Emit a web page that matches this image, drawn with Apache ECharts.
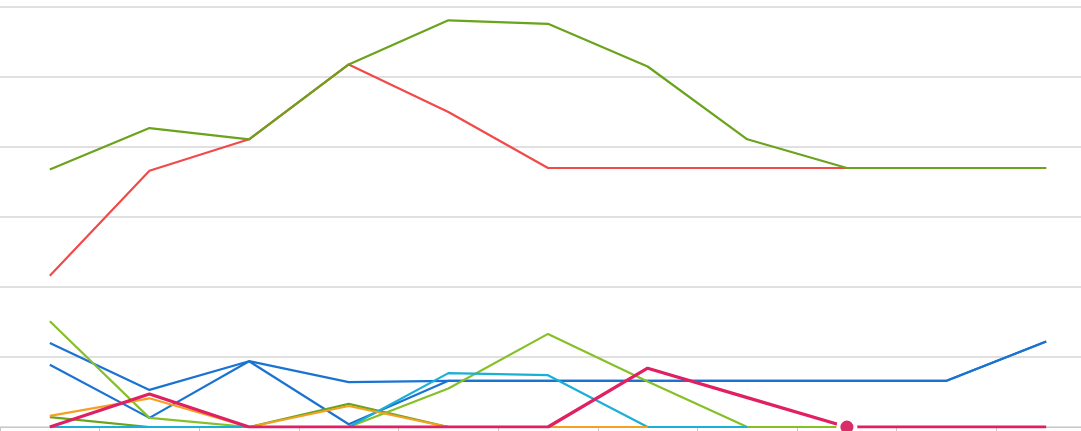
<!DOCTYPE html>
<html>
<head>
<meta charset="utf-8">
<script src="https://cdn.jsdelivr.net/npm/echarts@6/dist/echarts.min.js"></script>
<style>
html,body{margin:0;padding:0;background:#fff;overflow:hidden;width:1081px;height:431px;}
#chart{width:1096px;height:431px;}
</style>
</head>
<body>
<div id="chart"></div>
<script>
var categories = ['1','2','3','4','5','6','7','8','9','10','11'];
var seriesRed = [21.6, 36.6, 41.1, 51.8, 45.0, 37.0, 37.0, 37.0, 37.0, 37.0, 37.0];
var seriesGreen = [36.8, 42.7, 41.1, 51.8, 58.1, 57.6, 51.5, 41.1, 37.0, 37.0, 37.0];
var seriesBlue1 = [12.0, 5.3, 9.4, 6.4, 6.6, 6.6, 6.6, 6.6, 6.6, 6.6, 12.2];
var seriesBlue2 = [8.9, 1.3, 9.4, 0.4, 6.6, 6.6, 6.6, 6.6, 6.6, 6.6, 12.2];
var seriesDarkGreen = [1.4, 0, 0, 3.3, 0, 0, 0];
var seriesYellowGreen = [15.1, 1.3, 0, 0, 5.5, 13.3, 6.5, 0, 0];
var seriesCyan = [0, 0, 0, 0, 7.7, 7.4, 0, 0];
var seriesOrange = [1.6, 4.1, 0, 3.0, 0, 0, 0];
var seriesPink = [0, 4.7, 0, 0, 0, 0, 8.4, 4.2, 0, 0, 0];
var highlightIndex = 8;

var chart = echarts.init(document.getElementById('chart'), null, {renderer:'canvas'});
function line(name, data, color, width, z) {
  return {
    name: name, type: 'line', data: data, showSymbol: false, symbol: 'circle',
    lineStyle: {color: color, width: width}, itemStyle: {color: color},
    z: z, animation: false, emphasis: {disabled: true}
  };
}
var pinkData = seriesPink.map(function (v, i) {
  if (i === highlightIndex) {
    return {value: v, symbol: 'circle', symbolSize: 17,
      itemStyle: {color: '#d92d68', borderColor: '#ffffff', borderWidth: 4}};
  }
  return v;
});
var pink = line('pink', pinkData, '#e11f63', 3.2, 10);
pink.showSymbol = true;
pink.symbolSize = 0;
pink.showAllSymbol = true;

chart.setOption({
  animation: false,
  grid: {left: 0, right: 0, top: 7, bottom: 4, containLabel: false},
  xAxis: {
    type: 'category', data: categories, boundaryGap: true,
    axisLine: {show: true, lineStyle: {color: '#c8c8c8', width: 1}},
    axisTick: {show: true, length: 4, lineStyle: {color: '#c8c8c8'}},
    axisLabel: {show: false}
  },
  yAxis: {
    type: 'value', min: 0, max: 60, interval: 10,
    axisLine: {show: false}, axisTick: {show: false}, axisLabel: {show: false},
    splitLine: {show: true, lineStyle: {color: '#d6d6d6', width: 1.5}}
  },
  series: [
    line('red', seriesRed, '#f24949', 2.2, 2),
    line('green', seriesGreen, '#6aa31c', 2.2, 3),
    line('blue1', seriesBlue1, '#1a73d2', 2.2, 4),
    line('blue2', seriesBlue2, '#1a73d2', 2.2, 4),
    line('darkgreen', seriesDarkGreen, '#6aa31c', 2.2, 5),
    line('yellowgreen', seriesYellowGreen, '#86c028', 2.2, 5),
    line('cyan', seriesCyan, '#1aafd6', 2.2, 5),
    line('orange', seriesOrange, '#f4a023', 2.2, 6),
    pink
  ]
});
</script>
</body>
</html>
